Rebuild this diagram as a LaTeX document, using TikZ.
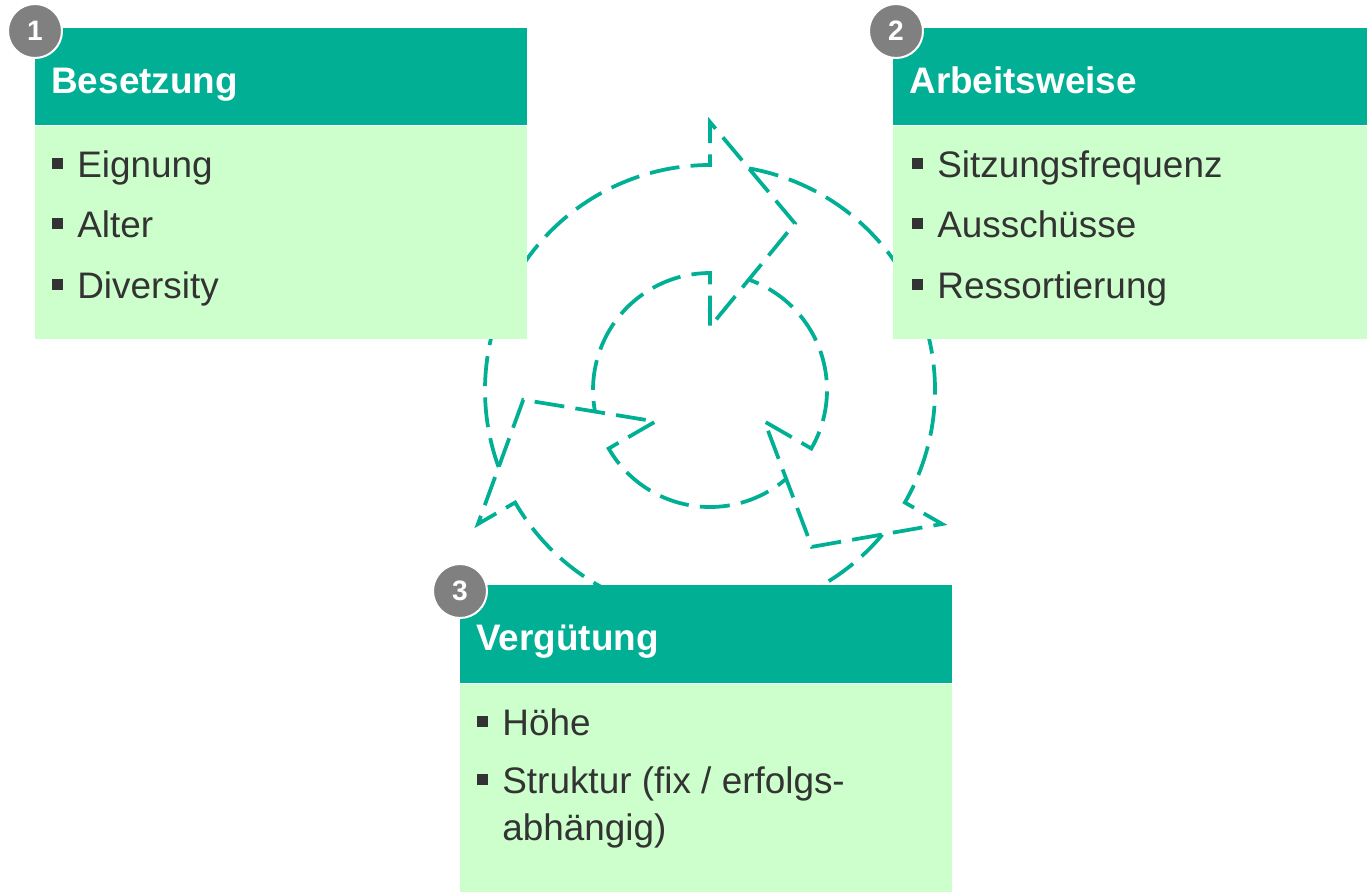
\documentclass[tikz,border=0pt]{standalone}
\usepackage{fontspec}
\setmainfont{Liberation Sans}
\usetikzlibrary{positioning,calc}

\definecolor{gcteal}{RGB}{0,175,148}
\definecolor{gclight}{RGB}{204,255,204}
\definecolor{gctext}{RGB}{51,51,51}
\definecolor{gcbadge}{RGB}{128,128,128}

\newcommand{\sqbullet}{\rule[1.8mm]{2.2mm}{2.2mm}\hspace{2.8mm}}

\tikzset{
  headbox/.style={rectangle, fill=gcteal, minimum height=19.4mm, inner sep=0, anchor=north west},
  bodybox/.style={rectangle, fill=gclight, inner sep=0},
  headtext/.style={anchor=base west, inner sep=0, text=white, font=\fontsize{21}{25}\selectfont\bfseries},
  itemtext/.style={anchor=base west, inner sep=0, text=gctext, font=\fontsize{21}{25}\selectfont},
  badge/.style={circle, fill=gcbadge, draw=white, line width=0.4mm, minimum size=10.8mm, inner sep=0,
    text=white, font=\fontsize{16}{18}\selectfont\bfseries},
  cyclearrow/.style={draw=gcteal, line width=0.75mm, dash pattern=on 6mm off 2.25mm},
}

\begin{document}
\begin{tikzpicture}[x=0.2mm, y=0.2mm]
  \useasboundingbox (0,0) rectangle (1367,-891);

  % three circular arrows, outline only
  \coordinate (c) at (710,-390);
  \foreach \h in {90,-30,210}
    \draw [cyclearrow] ($(c)+({\h+110}:225)$) arc [start angle=\h+110, end angle=\h, radius=225]
      -- ($(c)+(\h:268)$) -- ($(c)+({\h-27}:187)$) -- ($(c)+(\h:63)$) -- ($(c)+(\h:117)$)
      arc [start angle=\h, end angle=\h+100.6, radius=117];

  % Besetzung
  \node (head1) [headbox, minimum width=98.4mm] at (35,-28) {};
  \node (body1) [bodybox, minimum width=98.4mm, minimum height=42.6mm, below=0pt of head1] {};
  \node (title1) [headtext] at ($(head1.north west)+(16,-65)$) {Besetzung};
  \node (i11) [itemtext] at ($(body1.north west)+(17,-52)$) {\sqbullet Eignung};
  \node (i12) [itemtext] at ($(body1.north west)+(17,-112)$) {\sqbullet Alter};
  \node (i13) [itemtext] at ($(body1.north west)+(17,-173)$) {\sqbullet Diversity};
  \node (n1) [badge] at (35,-31) {1};

  % Arbeitsweise
  \node (head2) [headbox, minimum width=94.8mm] at (893,-28) {};
  \node (body2) [bodybox, minimum width=94.8mm, minimum height=42.6mm, below=0pt of head2] {};
  \node (title2) [headtext] at ($(head2.north west)+(16,-65)$) {Arbeitsweise};
  \node (i21) [itemtext] at ($(body2.north west)+(19,-52)$) {\sqbullet Sitzungsfrequenz};
  \node (i22) [itemtext] at ($(body2.north west)+(19,-112)$) {\sqbullet Ausschüsse};
  \node (i23) [itemtext] at ($(body2.north west)+(19,-173)$) {\sqbullet Ressortierung};
  \node (n2) [badge] at (896,-31) {2};

  % Vergütung
  \node (head3) [headbox, minimum width=98.4mm, minimum height=19.6mm] at (460,-585) {};
  \node (body3) [bodybox, minimum width=98.4mm, minimum height=41.6mm, below=0pt of head3] {};
  \node (title3) [headtext] at ($(head3.north west)+(16,-65)$) {Vergütung};
  \node (i31) [itemtext] at ($(body3.north west)+(17,-52)$) {\sqbullet Höhe};
  \node (i32) [itemtext] at ($(body3.north west)+(17,-110)$) {\sqbullet Struktur (fix / erfolgs-};
  \node (i33) [itemtext] at ($(body3.north west)+(42,-157)$) {abhängig)};
  \node (n3) [badge] at (460,-591) {3};
\end{tikzpicture}
\end{document}
